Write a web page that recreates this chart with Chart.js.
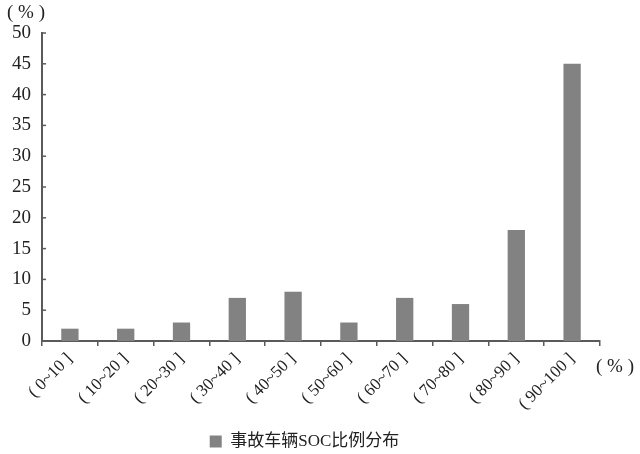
<!DOCTYPE html>
<html>
<head>
<meta charset="utf-8">
<script src="https://cdn.jsdelivr.net/npm/chart.js@4/dist/chart.umd.min.js"></script>
<style>
  body { margin: 0; background: #fff; }
  #wrap { width: 640px; height: 454px; }
</style>
</head>
<body>
<div id="wrap"><canvas id="socChart" width="640" height="454"></canvas></div>
<script>
const categories = ['( 0~10 ]', '( 10~20 ]', '( 20~30 ]', '( 30~40 ]', '( 40~50 ]',
                    '( 50~60 ]', '( 60~70 ]', '( 70~80 ]', '( 80~90 ]', '( 90~100 ]']
const socRatio = [2, 2, 3, 7, 8, 3, 7, 6, 18, 45]
const yTicks = [0, 5, 10, 15, 20, 25, 30, 35, 40, 45, 50]
const seriesName = '事故车辆SOC比例分布'

const fontFamily = '"Liberation Serif", "DejaVu Serif", "Noto Sans CJK SC", serif'
const axisColor = '#5a5a5a'

// little inward ticks on the y axis and the two "(%)" unit labels
const extras = {
    id: 'extras',
    afterDraw(chart) {
        const ctx = chart.ctx
        const y = chart.scales.y
        const x = chart.scales.x
        ctx.save()
        ctx.strokeStyle = axisColor
        ctx.lineWidth = 1.5
        yTicks.forEach(v => {
            const py = y.getPixelForValue(v)
            ctx.beginPath()
            ctx.moveTo(x.left, py)
            ctx.lineTo(x.left + 4, py)
            ctx.stroke()
        })
        ctx.fillStyle = '#222'
        ctx.font = '19px ' + fontFamily
        ctx.textBaseline = 'middle'
        ctx.textAlign = 'left'
        ctx.fillText('( % )', 7, 13)
        ctx.fillText('( % )', x.right - 4, y.bottom + 26)
        ctx.restore()
    }
}

const data = {
    labels: categories,
    datasets: [
        {
            label: seriesName,
            backgroundColor: '#828282',
            borderWidth: 0,
            data: socRatio,
            barPercentage: 0.62,
            categoryPercentage: 0.5
        }
    ]
}

const config = {
    type: 'bar',
    data: data,
    options: {
        responsive: false,
        animation: false,
        layout: { padding: { top: 33, right: 40, left: 9, bottom: -6 } },
        scales: {
            x: {
                grid: {
                    offset: true,
                    drawOnChartArea: false,
                    color: axisColor,
                    tickLength: 5,
                    lineWidth: 1.5
                },
                border: { color: axisColor, width: 2 },
                ticks: {
                    color: '#222',
                    font: { family: fontFamily, size: 17 },
                    maxRotation: 45,
                    minRotation: 45,
                    padding: 3
                },
                afterFit(axis) {
                    axis.height += 14
                }
            },
            y: {
                min: 0,
                max: 50,
                afterBuildTicks(axis) {
                    axis.ticks = yTicks.map(v => ({ value: v }))
                },
                grid: { display: false },
                border: { color: axisColor, width: 2 },
                ticks: {
                    color: '#222',
                    font: { family: fontFamily, size: 19 },
                    padding: 3
                }
            }
        },
        plugins: {
            legend: {
                position: 'bottom',
                labels: {
                    color: '#222',
                    font: { family: fontFamily, size: 17 },
                    boxWidth: 12,
                    boxHeight: 12,
                    padding: 2
                }
            },
            tooltip: { enabled: false }
        }
    },
    plugins: [extras]
}

new Chart(
    document.getElementById('socChart').getContext('2d'),
    config
)
</script>
</body>
</html>
